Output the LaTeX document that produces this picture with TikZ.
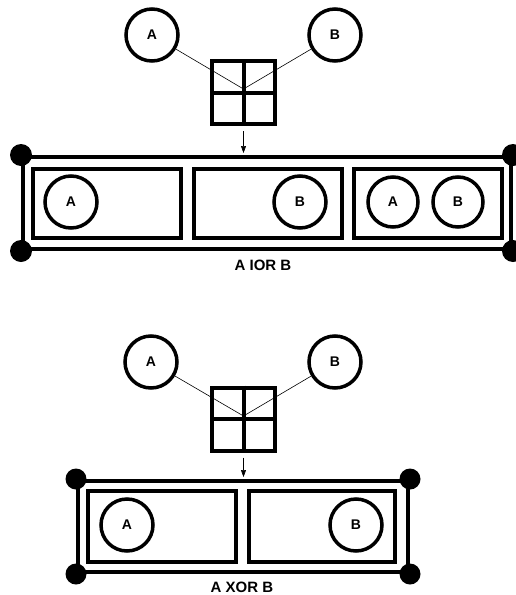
\documentclass[tikz,border=0pt]{standalone}
\usepackage{fontspec}
\setmainfont{Liberation Sans}
\usetikzlibrary{arrows.meta, positioning}

\begin{document}
\begin{tikzpicture}[x=1pt, y=-1pt,
    sigCircle/.style={circle, draw, line width=3.5pt, minimum size=52pt, inner sep=0pt, font=\bfseries\fontsize{14}{16}\selectfont},
    cellBox/.style={rectangle, draw, line width=4pt, minimum width=148pt, minimum height=69pt, inner sep=0pt},
    frameBox/.style={rectangle, draw, line width=4pt, inner sep=0pt},
    gridBox/.style={rectangle, draw, line width=4pt, minimum size=63pt, inner sep=0pt},
    gridLine/.style={line width=4pt},
    wire/.style={line width=0.6pt},
    caption/.style={font=\bfseries\fontsize{15}{17}\selectfont}]
    \useasboundingbox (0,0) rectangle (515,595);

    \node[sigCircle] (sigA1) at (152,35) {A};
    \node[sigCircle] (sigB1) at (335,35) {B};
    \node[gridBox] (grid1) at (243.5,92.5) {};
    \coordinate (hub1) at (243.5,89);
    \draw[gridLine] (grid1.north) -- (grid1.south);
    \draw[gridLine] (grid1.west) -- (grid1.east);
    \draw[wire] (sigA1) -- (hub1);
    \draw[wire] (sigB1) -- (hub1);

    \node[frameBox, minimum width=488pt, minimum height=92pt] (frame1) at (267,203) {};
    \draw[wire, -{Triangle[length=7pt, width=5pt]}, shorten <=5pt, shorten >=2pt] (grid1.south) -- (grid1.south |- frame1.north);
    \fill (frame1.north west) circle (11);
    \fill (frame1.north east) circle (11);
    \fill (frame1.south west) circle (11);
    \fill (frame1.south east) circle (11);

    \node[cellBox] (cellL1) at (106.5,203.5) {};
    \node[cellBox] (cellM1) at (267.5,203.5) {};
    \node[cellBox] (cellR1) at (427.5,203.5) {};
    \node[sigCircle] (inA1) at (71,202) {A};
    \node[sigCircle] (inB1) at (300,202) {B};
    \node[sigCircle, minimum size=50pt] (inA2) at (393,202) {A};
    \node[sigCircle, minimum size=50pt] (inB2) at (458,202) {B};
    \node[caption] (label1) at (263,265) {A IOR B};

    \node[sigCircle] (sigA2) at (151,362) {A};
    \node[sigCircle] (sigB2) at (335,362) {B};
    \node[gridBox] (grid2) at (243.5,419) {};
    \coordinate (hub2) at (243.5,416);
    \draw[gridLine] (grid2.north) -- (grid2.south);
    \draw[gridLine] (grid2.west) -- (grid2.east);
    \draw[wire] (sigA2) -- (hub2);
    \draw[wire] (sigB2) -- (hub2);

    \node[frameBox, minimum width=330pt, minimum height=91pt] (frame2) at (243,526.5) {};
    \draw[wire, -{Triangle[length=7pt, width=5pt]}, shorten <=5pt, shorten >=2pt] (grid2.south) -- (grid2.south |- frame2.north);
    \fill (frame2.north west) circle (10.5);
    \fill (frame2.north east) circle (10.5);
    \fill (frame2.south west) circle (10.5);
    \fill (frame2.south east) circle (10.5);

    \node[cellBox, minimum height=71pt] (cellL2) at (162,526.5) {};
    \node[cellBox, minimum width=146pt, minimum height=71pt] (cellR2) at (322,526.5) {};
    \node[sigCircle] (inA3) at (127,525) {A};
    \node[sigCircle] (inB3) at (356,525) {B};
    \node[caption] (label2) at (242,587) {A XOR B};
\end{tikzpicture}
\end{document}
